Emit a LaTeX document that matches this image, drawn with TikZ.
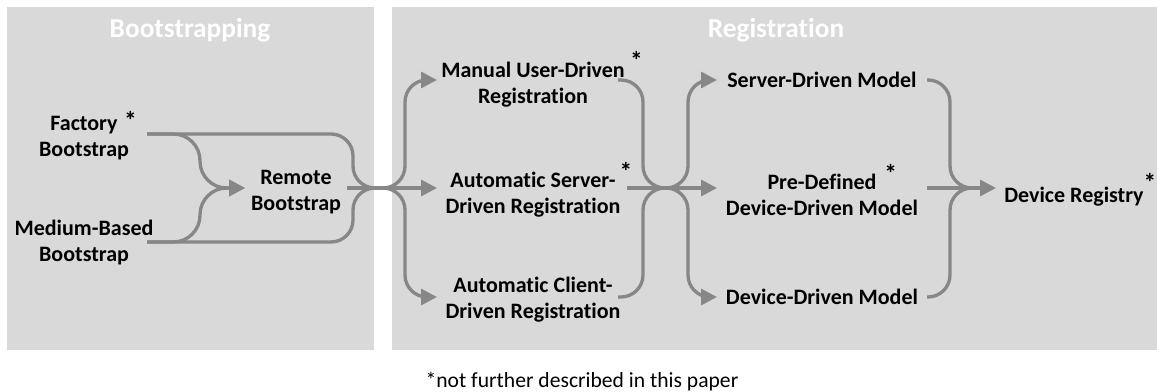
\documentclass[tikz,border=0pt]{standalone}
\usepackage{fontspec}
\setmainfont{Carlito}[Ligatures=NoCommon]
\usetikzlibrary{arrows.meta}
\definecolor{panelgray}{HTML}{D9D9D9}
\definecolor{flowgray}{HTML}{878787}
% raised footnote star hanging to the right of a line
\newcommand\markstar[2]{\rlap{\hspace{#1}\raisebox{#2}{\fontsize{19}{19}\selectfont *}}}

\begin{document}
\begin{tikzpicture}[x=0.75pt,y=-0.75pt,
  panel/.style={fill=panelgray,draw=none},
  paneltitle/.style={font=\fontsize{20.5}{24}\selectfont\bfseries,text=white,anchor=base,inner sep=0pt},
  lbl/.style={font=\fontsize{16.5}{19.5}\selectfont\bfseries,align=center,inner sep=0pt},
  flow/.style={draw=flowgray,line width=2.5pt},
  arr/.style={flow,-{Triangle[length=12pt,width=12pt]}},
  ]
\useasboundingbox (0,0) rectangle (1157,392);
\fill[white] (0,0) rectangle (1157,392);

% background panels
\path[panel] (7,7) rectangle (374,350);
\path[panel] (392,7) rectangle (1157,350);
\node[paneltitle] (tb) at (190,38) {Bootstrapping};
\node[paneltitle] (tr) at (776,38) {Registration};

% stages
\node[lbl] (fac) at (84,136) {Factory\markstar{5pt}{1pt}\\Bootstrap};
\node[lbl] (med) at (84,243) {Medium-Based\\Bootstrap};
\node[lbl] (rem) at (296,192) {Remote\\Bootstrap};
\node[lbl] (man) at (533,79) {Manual User-Driven\markstar{4pt}{6pt}\\Registration};
\node[lbl] (aser) at (533,190) {Automatic Server-\markstar{3pt}{5pt}\\Driven Registration};
\node[lbl] (acli) at (533,300) {Automatic Client-\\Driven Registration};
\node[lbl] (sdm) at (822,80) {Server-Driven Model};
\node[lbl] (pdm) at (822,190) {Pre-Defined\markstar{6pt}{5pt}\\Device-Driven Model};
\node[lbl] (ddm) at (822,297) {Device-Driven Model};
\node[lbl] (reg) at (1074,190) {Device Registry\markstar{0pt}{8pt}};

\node[font=\fontsize{16.2}{19}\selectfont,inner sep=0pt] (note) at (582,382) {*not further described in this paper};

% connector ports
\coordinate (facout) at (147,134);
\coordinate (medout) at (147,242);
\coordinate (remin)  at (245,188);
\coordinate (remout) at (347,188);
\coordinate (j1)     at (382,188);
\coordinate (manin)  at (437,80);
\coordinate (aserin) at (437,188);
\coordinate (acliin) at (437,297);
\coordinate (manout) at (618,80);
\coordinate (aserout) at (627,188);
\coordinate (acliout) at (618,297);
\coordinate (j2)     at (665,188);
\coordinate (sdmin)  at (717,80);
\coordinate (pdmin)  at (717,188);
\coordinate (ddmin)  at (717,297);
\coordinate (sdmout) at (927,80);
\coordinate (pdmout) at (927,188);
\coordinate (ddmout) at (927,297);
\coordinate (j3)     at (966,188);
\coordinate (regin)  at (996,188);
% columns where the bends run vertically
\coordinate (cA) at (200,0);
\coordinate (cB) at (353,0);
\coordinate (cC) at (405,0);
\coordinate (cD) at (643,0);
\coordinate (cE) at (688,0);
\coordinate (cF) at (950,0);

% bootstrapping
\draw[arr,rounded corners=20pt] (facout) -- (cA |- facout) -- (cA |- remin) -- (remin);
\draw[arr,rounded corners=20pt] (medout) -- (cA |- medout) -- (cA |- remin) -- (remin);
\draw[flow,rounded corners=16.5pt] (facout) -- (cB |- facout) -- (cB |- j1) -- (j1);
\draw[flow,rounded corners=16.5pt] (medout) -- (cB |- medout) -- (cB |- j1) -- (j1);
\draw[flow] (remout) -- (j1);

% registration
\draw[arr,rounded corners=16.5pt] (j1) -- (cC |- j1) -- (cC |- manin) -- (manin);
\draw[arr] (j1) -- (aserin);
\draw[arr,rounded corners=16.5pt] (j1) -- (cC |- j1) -- (cC |- acliin) -- (acliin);

\draw[flow,rounded corners=16.5pt] (manout) -- (cD |- manout) -- (cD |- j2) -- (j2);
\draw[flow] (aserout) -- (j2);
\draw[flow,rounded corners=16.5pt] (acliout) -- (cD |- acliout) -- (cD |- j2) -- (j2);

\draw[arr,rounded corners=16.5pt] (j2) -- (cE |- j2) -- (cE |- sdmin) -- (sdmin);
\draw[arr] (j2) -- (pdmin);
\draw[arr,rounded corners=16.5pt] (j2) -- (cE |- j2) -- (cE |- ddmin) -- (ddmin);

\draw[flow,rounded corners=16.5pt] (sdmout) -- (cF |- sdmout) -- (cF |- j3) -- (j3);
\draw[flow] (pdmout) -- (j3);
\draw[flow,rounded corners=16.5pt] (ddmout) -- (cF |- ddmout) -- (cF |- j3) -- (j3);
\draw[arr] (j3) -- (regin);
\end{tikzpicture}
\end{document}
